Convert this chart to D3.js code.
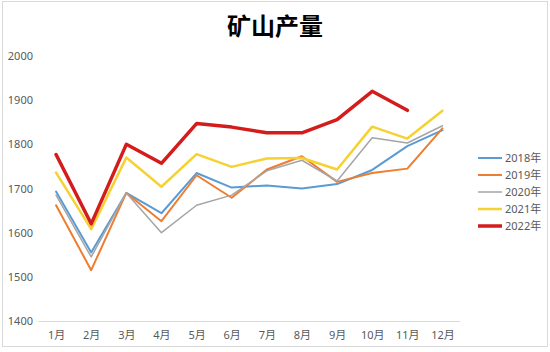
<!DOCTYPE html>
<html><head><meta charset="utf-8">
<script src="https://cdn.jsdelivr.net/npm/d3@7/dist/d3.min.js"></script>
<style>body{margin:0;background:#fff;}svg{display:block;}</style>
</head><body>
<svg id="chart" width="550" height="352"></svg>
<script>
const months = ["1月","2月","3月","4月","5月","6月","7月","8月","9月","10月","11月","12月"];
const yTicks = [1400,1500,1600,1700,1800,1900,2000];
const seriesNames = ["2018年","2019年","2020年","2021年","2022年"];
const v2018 = [1693,1555,1690,1644,1735,1702,1707,1700,1710,1742,1796,1832];
const v2019 = [1662,1515,1690,1626,1730,1679,1743,1773,1715,1735,1745,1836];
const v2020 = [1685,1545,1690,1600,1662,1685,1740,1764,1717,1815,1803,1842];
const v2021 = [1736,1608,1770,1704,1778,1749,1768,1769,1743,1840,1813,1876];
const v2022 = [1777,1620,1800,1757,1847,1839,1826,1826,1856,1920,1877];
const colors = ["#5b9bd5","#ed7d31","#a5a5a5","#f5d132","#d41c1c"];
const widths = [2,2,1.5,2.5,3.5];
const allValues = [v2018,v2019,v2020,v2021,v2022];

const svg = d3.select("#chart");
svg.append("rect").attr("x",2.5).attr("y",1.5).attr("width",545).attr("height",345)
  .attr("fill","#fff").attr("stroke","#d9d9d9").attr("stroke-width",1);

svg.append("text").attr("x",275).attr("y",35).attr("text-anchor","middle")
  .attr("font-family","'Noto Sans CJK SC', sans-serif").attr("font-weight","bold")
  .attr("font-size",24).attr("fill","#000").text("矿山产量");

const x = d3.scalePoint().domain(months).range([38.5,460]).padding(0.5);
const y = d3.scaleLinear().domain([1400,2000]).range([321,56]);

const font = "'Noto Sans', 'Noto Sans CJK SC', sans-serif";

// x axis
const xAxis = svg.append("g").attr("transform","translate(0,321.5)")
  .call(d3.axisBottom(x).tickSize(0).tickPadding(10));
xAxis.select(".domain").attr("stroke","#d9d9d9").attr("d","M38.5,0H460");
xAxis.selectAll("text").attr("font-family",font).attr("font-size",11).attr("fill","#595959");

// y axis
const yAxis = svg.append("g").attr("transform","translate(33,0)")
  .call(d3.axisLeft(y).tickValues(yTicks).tickFormat(d3.format("d")).tickSize(0).tickPadding(0));
yAxis.select(".domain").remove();
yAxis.selectAll("text").attr("font-family",font).attr("font-size",11).attr("fill","#595959");

const line = d3.line().x((d,i)=>x(months[i])).y(d=>y(d));
allValues.forEach((vals,k)=>{
  svg.append("path").datum(vals).attr("d",line).attr("fill","none")
    .attr("stroke",colors[k]).attr("stroke-width",widths[k])
    .attr("stroke-linejoin","round").attr("stroke-linecap","round");
});

// legend
const lg = svg.append("g");
seriesNames.forEach((n,k)=>{
  const yy = 158 + k*17;
  lg.append("line").attr("x1",478).attr("x2",502).attr("y1",yy).attr("y2",yy)
    .attr("stroke",colors[k]).attr("stroke-width",widths[k]);
  lg.append("text").attr("x",505).attr("y",yy+4).attr("font-family",font)
    .attr("font-size",11).attr("fill","#595959").text(n);
});
</script>
</body></html>
